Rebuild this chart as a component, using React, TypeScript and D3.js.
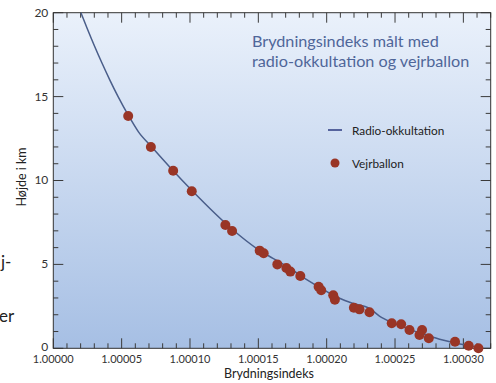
import { useEffect, useRef } from 'react'
import * as d3 from 'd3'

// refractive index given as N = (n - 1) * 1e6, height in km
const curveN = [20.2, 25.1, 30.2, 35.6, 41.3, 47.4, 54.8, 62.3, 71.9, 87.7, 101.1, 131.5, 148.6, 160.7, 172.9, 185.1, 197.2, 209.4, 219.1, 231.3, 238.6, 248.1, 260.6, 272.8, 284.9, 294.7, 302.0, 308.0]
const curveH = [20.0, 19.0, 18.0, 17.0, 16.0, 15.0, 13.9, 12.9, 12.01, 10.58, 9.43, 7.05, 5.96, 5.36, 4.77, 4.11, 3.52, 2.98, 2.68, 2.38, 1.92, 1.53, 1.13, 0.79, 0.49, 0.30, 0.20, 0.10]

const balloonN = [54.8, 71.4, 87.7, 101.3, 125.9, 130.8, 151.0, 153.9, 163.9, 170.5, 173.4, 180.7, 194.1, 196.0, 204.8, 206.0, 219.9, 224.0, 231.3, 247.6, 254.5, 260.6, 269.8, 267.9, 274.7, 293.9, 303.9, 311.0]
const balloonH = [13.84, 12.0, 10.58, 9.36, 7.35, 6.99, 5.82, 5.66, 5.0, 4.79, 4.57, 4.31, 3.67, 3.46, 3.16, 2.9, 2.42, 2.32, 2.15, 1.49, 1.43, 1.09, 1.09, 0.79, 0.6, 0.39, 0.15, 0.0]

const xTickLabels = [0, 50, 100, 150, 200, 250, 300]
const yTickLabels = [0, 5, 10, 15, 20]
const titleLines = ['Brydningsindeks målt med', 'radio-okkultation og vejrballon']

export default function App() {
  const svgRef = useRef<SVGSVGElement>(null)

  useEffect(() => {
    const svg = d3.select(svgRef.current)
    svg.selectAll('*').remove()

    const width = 496
    const height = 383
    const margin = { top: 12.7, right: 5.3, bottom: 34.7, left: 53.3 }
    const innerW = width - margin.left - margin.right
    const innerH = height - margin.top - margin.bottom
    const font = 'Lato, "Open Sans", sans-serif'

    const x = d3.scaleLinear().domain([0, 320]).range([0, innerW])
    const y = d3.scaleLinear().domain([0, 20]).range([innerH, 0])

    const defs = svg.append('defs')
    const grad = defs.append('linearGradient')
      .attr('id', 'bg').attr('x1', 0).attr('x2', 0).attr('y1', 0).attr('y2', 1)
    grad.append('stop').attr('offset', '0%').attr('stop-color', '#eaf1fb')
    grad.append('stop').attr('offset', '100%').attr('stop-color', '#a6bfe4')

    const g = svg.append('g').attr('transform', `translate(${margin.left},${margin.top})`)

    g.append('rect')
      .attr('width', innerW).attr('height', innerH)
      .attr('fill', 'url(#bg)')

    // ticks pointing inward on all four sides
    const tickColor = '#3a3a3a'
    d3.range(0, 321, 10).forEach(v => {
      const len = v % 50 === 0 ? 10 : 5
      const xx = x(v)
      g.append('line').attr('x1', xx).attr('x2', xx).attr('y1', innerH).attr('y2', innerH - len)
        .attr('stroke', tickColor).attr('stroke-width', 1)
      g.append('line').attr('x1', xx).attr('x2', xx).attr('y1', 0).attr('y2', len)
        .attr('stroke', tickColor).attr('stroke-width', 1)
    })
    d3.range(0, 21, 1).forEach(v => {
      const len = v % 5 === 0 ? 10 : 5
      const yy = y(v)
      g.append('line').attr('x1', 0).attr('x2', len).attr('y1', yy).attr('y2', yy)
        .attr('stroke', tickColor).attr('stroke-width', 1)
      g.append('line').attr('x1', innerW).attr('x2', innerW - len).attr('y1', yy).attr('y2', yy)
        .attr('stroke', tickColor).attr('stroke-width', 1)
    })

    g.append('rect')
      .attr('width', innerW).attr('height', innerH)
      .attr('fill', 'none').attr('stroke', '#333').attr('stroke-width', 1)

    // tick labels
    xTickLabels.forEach(v => {
      g.append('text')
        .attr('x', x(v)).attr('y', innerH + 14.5)
        .attr('text-anchor', 'middle')
        .attr('font-family', font).attr('font-size', 11).attr('fill', '#333')
        .text((1 + v / 1e6).toFixed(5))
    })
    yTickLabels.forEach(v => {
      g.append('text')
        .attr('x', -5).attr('y', y(v) + (v === 0 ? 3 : 4))
        .attr('text-anchor', 'end')
        .attr('font-family', font).attr('font-size', 12).attr('fill', '#333')
        .text(v)
    })

    // axis titles
    g.append('text')
      .attr('x', innerW / 2 - 3).attr('y', innerH + 30)
      .attr('text-anchor', 'middle')
      .attr('font-family', font).attr('font-size', 12.5).attr('fill', '#222')
      .text('Brydningsindeks')
    svg.append('text')
      .attr('transform', `translate(26,177) rotate(-90)`)
      .attr('text-anchor', 'middle')
      .attr('font-family', font).attr('font-size', 12.5).attr('fill', '#222')
      .text('Højde i km')

    // radio occultation curve
    const curveData = curveN.map((n, i) => ({ n, h: curveH[i] }))
    const line = d3.line<{ n: number; h: number }>()
      .x(d => x(d.n)).y(d => y(d.h))
      .curve(d3.curveMonotoneX)
    g.append('path')
      .datum(curveData)
      .attr('d', line)
      .attr('fill', 'none')
      .attr('stroke', '#4a5e8a')
      .attr('stroke-width', 1.5)

    // balloon points
    const pts = balloonN.map((n, i) => ({ n, h: balloonH[i] }))
    g.selectAll('.dot')
      .data(pts)
      .enter()
      .append('circle')
      .attr('class', 'dot')
      .attr('cx', d => x(d.n))
      .attr('cy', d => y(d.h))
      .attr('r', 5)
      .attr('fill', '#993526')

    // title
    titleLines.forEach((t, i) => {
      svg.append('text')
        .attr('x', 252).attr('y', 47 + i * 20)
        .attr('font-family', font).attr('font-size', 16.2).attr('fill', '#4f6699')
        .text(t)
    })

    // legend
    svg.append('line')
      .attr('x1', 328).attr('x2', 342).attr('y1', 130).attr('y2', 130)
      .attr('stroke', '#2b3a80').attr('stroke-width', 1.5)
    svg.append('text')
      .attr('x', 352).attr('y', 134.5)
      .attr('font-family', font).attr('font-size', 11.8).attr('fill', '#222')
      .text('Radio-okkultation')
    svg.append('circle')
      .attr('cx', 335).attr('cy', 163).attr('r', 4.5)
      .attr('fill', '#993526')
    svg.append('text')
      .attr('x', 352).attr('y', 167.5)
      .attr('font-family', font).attr('font-size', 11.8).attr('fill', '#222')
      .text('Vejrballon')

    // text fragments cut off at the left edge
    svg.append('text')
      .attr('x', 1).attr('y', 268)
      .attr('font-family', font).attr('font-size', 17).attr('fill', '#222')
      .text('j-')
    svg.append('text')
      .attr('x', -1).attr('y', 322)
      .attr('font-family', font).attr('font-size', 17).attr('fill', '#222')
      .text('er')
  }, [])

  return (
    <svg
      ref={svgRef}
      width={496}
      height={383}
      style={{ position: 'absolute', left: 0, top: 0, background: '#fff' }}
    />
  )
}
